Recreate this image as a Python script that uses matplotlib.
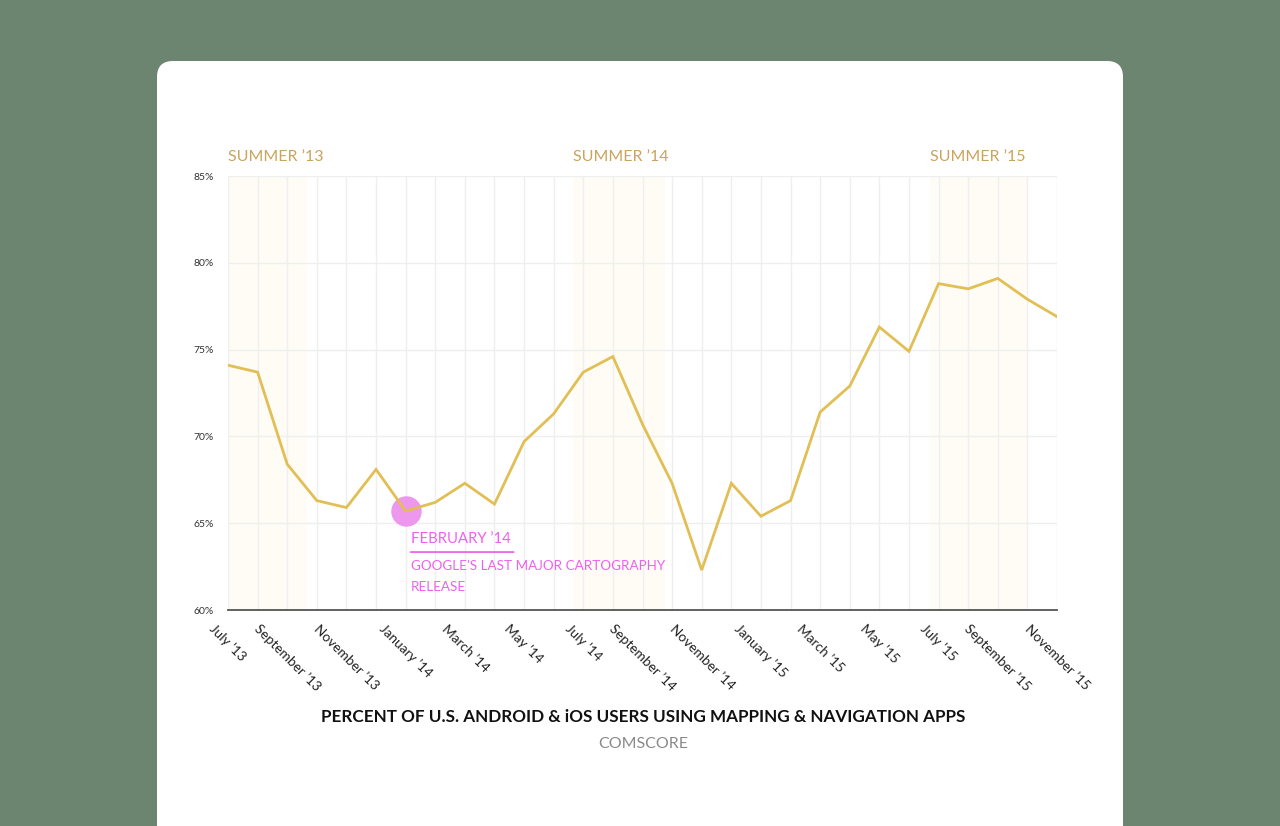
import matplotlib
matplotlib.use("Agg")
import matplotlib.pyplot as plt
import matplotlib.transforms as mtransforms
from matplotlib.patches import FancyBboxPatch

# ---------------- data ----------------
month_labels = [
    "July ’13", "August ’13", "September ’13", "October ’13", "November ’13", "December ’13",
    "January ’14", "February ’14", "March ’14", "April ’14", "May ’14", "June ’14",
    "July ’14", "August ’14", "September ’14", "October ’14", "November ’14", "December ’14",
    "January ’15", "February ’15", "March ’15", "April ’15", "May ’15", "June ’15",
    "July ’15", "August ’15", "September ’15", "October ’15", "November ’15",
]
values = [74.1, 73.7, 68.4, 66.3, 65.9, 68.1, 65.7, 66.2, 67.3, 66.1, 69.7, 71.3,
          73.7, 74.6, 70.7, 67.3, 62.3, 67.3, 65.4, 66.3, 71.4, 72.9, 76.3, 74.9,
          78.8, 78.5, 79.1, 77.9, 76.9]
y_ticks = [60, 65, 70, 75, 80, 85]
y_tick_labels = ["60%", "65%", "70%", "75%", "80%", "85%"]
summer_labels = ["SUMMER ’13", "SUMMER ’14", "SUMMER ’15"]
summer_starts = [-0.35, 11.66, 23.7]
summer_ends = [2.67, 14.76, 27.0]
highlight_index = 6
highlight_title = "FEBRUARY ’14"
highlight_lines = ["GOOGLE’S LAST MAJOR CARTOGRAPHY", "RELEASE"]
chart_title = "PERCENT OF U.S. ANDROID & iOS USERS USING MAPPING & NAVIGATION APPS"
chart_source = "COMSCORE"

# ---------------- style ----------------
BG = "#6b8570"
LINE = "#e2bf55"
GOLD = "#c9a45c"
PINK = "#f060f0"
DOT = "#ec8cec"
GRID = "#efefef"
SHADE = "#fefcf5"
FONT = ["Lato", "DejaVu Sans"]
plt.rcParams["font.family"] = FONT

W, H = 1280, 826
fig = plt.figure(figsize=(W / 100, H / 100), dpi=100, facecolor=BG)

# background card
bg = fig.add_axes([0, 0, 1, 1], zorder=0)
bg.set_xlim(0, W)
bg.set_ylim(H, 0)
bg.axis("off")
card = FancyBboxPatch((157, 61), 966, 840, boxstyle="round,pad=0,rounding_size=16",
                      facecolor="white", edgecolor="none")
bg.add_patch(card)

# main axes
ax_l, ax_r, ax_t, ax_b = 228, 1057, 176, 610
ax = fig.add_axes([ax_l / W, 1 - ax_b / H, (ax_r - ax_l) / W, (ax_b - ax_t) / H], zorder=1)
ax.set_facecolor("none")

x = list(range(len(values)))
ax.set_xlim(0, len(values) - 1)
ax.set_ylim(60, 85)

for s, e in zip(summer_starts, summer_ends):
    ax.axvspan(s, e, color=SHADE, zorder=0, lw=0)

ax.set_xticks(x)
ax.set_xticklabels([lab if i % 2 == 0 else "" for i, lab in enumerate(month_labels)],
                   rotation=-45, ha="center", va="top", fontsize=9.8, color="#222222")
ax.set_yticks(y_ticks)
ax.set_yticklabels(y_tick_labels, fontsize=7.5, color="#333333")
ax.tick_params(axis="both", length=0)
ax.tick_params(axis="x", pad=9)
ax.tick_params(axis="y", pad=10)
ax.grid(True, color=GRID, lw=1.0, zorder=0.5)
ax.set_axisbelow(True)
for side in ["top", "right", "left"]:
    ax.spines[side].set_visible(False)
ax.spines["bottom"].set_color("#555555")
ax.spines["bottom"].set_linewidth(1.3)
ax.spines["bottom"].set_zorder(3)

ax.plot(x, values, color=LINE, lw=2.0, zorder=3, solid_joinstyle="miter")

# highlight dot
ax.scatter([highlight_index], [values[highlight_index]], s=480, color=DOT, alpha=0.9,
           zorder=2.5, lw=0)

# annotation
hx, hy = highlight_index, values[highlight_index]
ax.annotate(highlight_title, xy=(hx, hy), xytext=(5, -32), textcoords="offset pixels",
            ha="left", va="baseline", fontsize=10.7, color=PINK, zorder=4)
t1 = mtransforms.offset_copy(ax.transData, fig=fig, x=5, y=-41, units="dots")
t2 = mtransforms.offset_copy(ax.transData, fig=fig, x=108, y=-41, units="dots")
ax.annotate("", xy=(hx, hy), xycoords=t2, xytext=(hx, hy), textcoords=t1,
            arrowprops=dict(arrowstyle="-", color=PINK, lw=1.3, shrinkA=0, shrinkB=0),
            annotation_clip=False)
for k, line in enumerate(highlight_lines):
    ax.annotate(line, xy=(hx, hy), xytext=(5, -59 - 21 * k), textcoords="offset pixels",
                ha="left", va="baseline", fontsize=9.7, color=PINK, zorder=4)

# summer labels
summer_trans = mtransforms.offset_copy(ax.get_xaxis_transform(), fig=fig, x=0, y=12, units="dots")
for lab, s in zip(summer_labels, summer_starts):
    ax.text(max(s, 0), 1.0, lab, transform=summer_trans, ha="left", va="bottom",
            fontsize=11.5, color=GOLD)

# title and source
fig.text(643 / W, 1 - 722 / H, chart_title, ha="center", va="baseline", fontsize=12.3,
         fontweight="bold", color="#111111")
fig.text(643 / W, 1 - 748 / H, chart_source, ha="center", va="baseline", fontsize=11.5,
         color="#8a8a8a")

fig.savefig("out.png", dpi=100, facecolor=BG)
